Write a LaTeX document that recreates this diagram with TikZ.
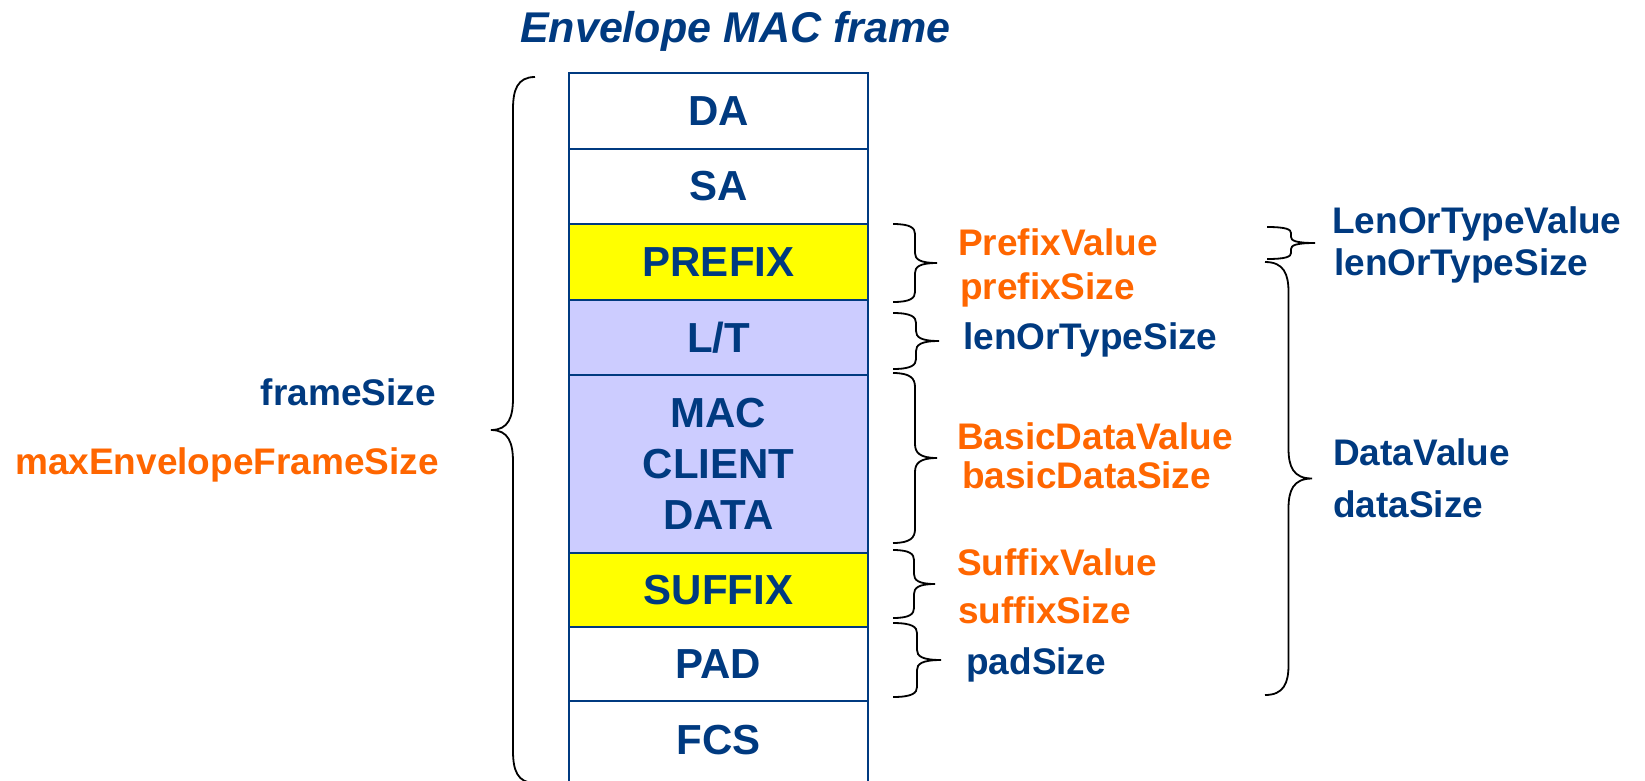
\documentclass[tikz,border=0pt]{standalone}
\usepackage{fontspec}
\setmainfont{Liberation Sans}
\usepackage{tikz}
\usetikzlibrary{positioning, calc}
\definecolor{framblue}{RGB}{0,58,128}
\definecolor{framorange}{RGB}{255,102,0}
\definecolor{fixyellow}{RGB}{255,255,0}
\definecolor{clientlilac}{RGB}{204,204,255}
\tikzstyle{field}     = [rectangle, draw=framblue, line width=2.2pt, fill=white,
                          minimum width=299pt, minimum height=75pt, inner sep=0pt, outer sep=0pt,
                          text=framblue, align=center, font=\fontsize{42}{51}\selectfont\bfseries]
\tikzstyle{valuetext} = [inner sep=0pt, anchor=base west, text=framorange,
                          font=\fontsize{37}{40}\selectfont\bfseries]
\tikzstyle{sizetext}  = [inner sep=0pt, anchor=base west, text=framblue,
                          font=\fontsize{37}{40}\selectfont\bfseries]
\tikzset{curly/.style 2 args={line width=1.8pt, to path={
  let \p1=(\tikztostart), \p2=(\tikztotarget), \p3=($(\p1)!0.5!(\p2)$) in
  (\p1) .. controls ({\x1+0.4*(#1)},\y1) and ({\x1+0.5*(#1)},{\y1-0.4*(#2)}) .. ({\x1+0.5*(#1)},{\y1-(#2)})
  -- ({\x1+0.5*(#1)},{\y3+(#2)})
  .. controls ({\x1+0.5*(#1)},{\y3+0.4*(#2)}) and ({\x1+0.6*(#1)},\y3) .. ({\x1+(#1)},\y3)
  .. controls ({\x1+0.6*(#1)},\y3) and ({\x1+0.5*(#1)},{\y3-0.4*(#2)}) .. ({\x1+0.5*(#1)},{\y3-(#2)})
  -- ({\x1+0.5*(#1)},{\y2+(#2)})
  .. controls ({\x1+0.5*(#1)},{\y2+0.4*(#2)}) and ({\x1+0.4*(#1)},\y2) .. (\p2)}}}

\begin{document}
\begin{tikzpicture}[x=1pt, y=-1pt]
  \useasboundingbox (0,0) rectangle (1645,780);

  % Title
  \node (title) [inner sep=0pt, anchor=base west, text=framblue,
                 font=\fontsize{43}{47}\selectfont\bfseries\itshape] at (520,42) {Envelope MAC frame};

  % Frame fields
  \node (da)     [field, minimum height=76pt] at (718.5,111) {DA};
  \node (sa)     [field, below=0pt of da] {SA};
  \node (prefix) [field, fill=fixyellow, minimum height=76pt, below=0pt of sa] {PREFIX};
  \node (lt)     [field, fill=clientlilac, below=0pt of prefix] {L/T};
  \node (mac)    [field, fill=clientlilac, minimum height=178pt, below=0pt of lt] {MAC\\CLIENT\\DATA};
  \node (suffix) [field, fill=fixyellow, minimum height=74pt, below=0pt of mac] {SUFFIX};
  \node (pad)    [field, minimum height=74pt, below=0pt of suffix] {PAD};
  \node (fcs)    [field, minimum height=90pt, text depth=12pt, below=0pt of pad] {FCS};

  % Whole frame brace
  \coordinate (frtop) at (535,77);
  \coordinate (frbot) at (535,783);
  \draw [curly={-44pt}{32pt}] (frtop) to (frbot);
  \node (fsize)   [sizetext, anchor=base east] at (436,405) {frameSize};
  \node (maxsize) [valuetext, anchor=base east] at (439,474) {maxEnvelopeFrameSize};

  % Field braces
  \coordinate (pftop) at ($(prefix.north east)+(25,0)$);
  \coordinate (pfbot) at ($(prefix.south east)+(25,2)$);
  \coordinate (lttop) at ($(lt.north east)+(25,13)$);
  \coordinate (ltbot) at ($(lt.south east)+(25,-6)$);
  \coordinate (mctop) at ($(mac.north east)+(25,-2)$);
  \coordinate (mcbot) at ($(mac.south east)+(25,-10)$);
  \coordinate (sftop) at ($(suffix.north east)+(25,-3)$);
  \coordinate (sfbot) at ($(suffix.south east)+(25,-9)$);
  \coordinate (pdtop) at ($(pad.north east)+(25,-4)$);
  \coordinate (pdbot) at ($(pad.south east)+(25,-4)$);
  \draw [curly={44pt}{10pt}] (pftop) to (pfbot);
  \draw [curly={46pt}{10pt}] (lttop) to (ltbot);
  \draw [curly={44pt}{14pt}] (mctop) to (mcbot);
  \draw [curly={42pt}{10pt}] (sftop) to (sfbot);
  \draw [curly={48pt}{10pt}] (pdtop) to (pdbot);

  \node (pfval)   [valuetext] at (958,255) {PrefixValue};
  \node (pfsize)  [valuetext] at (960,299) {prefixSize};
  \node (ltsize)  [sizetext]  at (963,349) {lenOrTypeSize};
  \node (bdval)   [valuetext] at (957,449) {BasicDataValue};
  \node (bdsize)  [valuetext] at (962,488) {basicDataSize};
  \node (sfval)   [valuetext] at (957,575) {SuffixValue};
  \node (sfsize)  [valuetext] at (958,623) {suffixSize};
  \node (padsize) [sizetext]  at (966,674) {padSize};

  % Outer braces
  \coordinate (lotop) at (1267,227);
  \coordinate (lobot) at (1267,259);
  \coordinate (dttop) at (1265,262);
  \coordinate (dtbot) at (1265,695);
  \draw [curly={48pt}{6pt}] (lotop) to (lobot);
  \draw [curly={47pt}{30pt}] (dttop) to (dtbot);

  \node (loval)  [sizetext] at (1332,233) {LenOrTypeValue};
  \node (losize) [sizetext] at (1334,275) {lenOrTypeSize};
  \node (dval)   [sizetext] at (1333,465) {DataValue};
  \node (dsize)  [sizetext] at (1333,517) {dataSize};

\end{tikzpicture}
\end{document}
